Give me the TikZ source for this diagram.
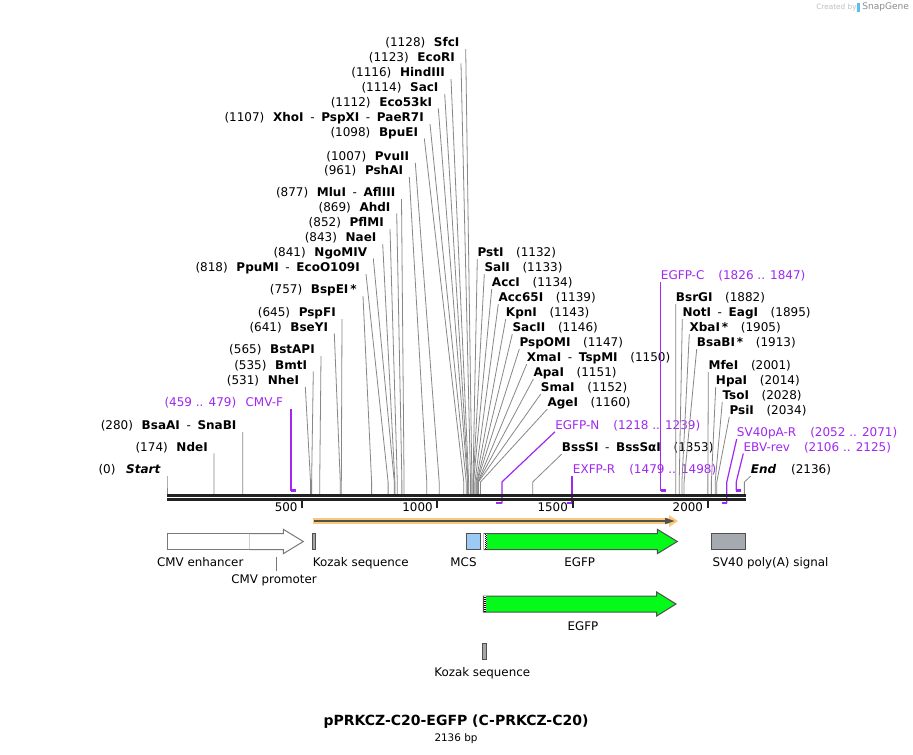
\documentclass[tikz,border=0pt]{standalone}
\usepackage{fontspec}
\setmainfont{DejaVu Sans}
\usepackage{tikz}

\definecolor{primer}{RGB}{160,40,240}
\definecolor{cutgray}{RGB}{135,135,135}
\definecolor{featgray}{RGB}{120,120,120}
\definecolor{featdark}{RGB}{80,80,80}
\definecolor{axisblack}{RGB}{34,34,34}
\definecolor{kozakgray}{RGB}{165,165,170}
\definecolor{mcsblue}{RGB}{155,202,245}
\definecolor{egfpgreen}{RGB}{4,250,24}
\definecolor{polyagray}{RGB}{165,170,177}
\definecolor{orfband}{RGB}{249,200,122}
\definecolor{snapblue}{RGB}{90,190,240}

\newcommand{\sepd}{\hspace{5pt}-\hspace{5pt}}

\begin{document}
\begin{tikzpicture}[x=0.75pt, y=-0.75pt,
    font=\fontsize{9}{10}\selectfont,
    cutl/.style={anchor=east, inner xsep=4.5pt, inner ysep=0pt, text height=6.6pt, text depth=0pt, minimum height=9.75pt},
    cutr/.style={anchor=west, inner sep=0pt, text height=6.6pt, text depth=0pt, minimum height=9.75pt},
    priml/.style={cutl, inner xsep=0pt, text=primer},
    primr/.style={cutr, text=primer},
    cut/.style={draw=cutgray, line width=0.6pt},
    prm/.style={draw=primer, line width=0.9pt},
    prmbar/.style={draw=primer, line width=1.6pt},
    feat/.style={draw=featgray, line width=0.75pt},
    featd/.style={draw=featdark, line width=0.75pt},
    tick/.style={draw=axisblack, line width=1.5pt},
    flabel/.style={inner sep=0pt, text height=6.5pt, text depth=0pt, font=\fontsize{8.9}{10}\selectfont}]

    \fill[white] (0,0) rectangle (913,754);
    \useasboundingbox (0,0) rectangle (913,754);

    % sites on the sequence
    \coordinate (bend) at (0,482);
    \coordinate (fwd) at (0,490.5);
    \coordinate (rev) at (0,503.3);
    \foreach \b in {0,174,280,459,479,531,535,565,641,645,757,818,841,843,852,869,877,961,1007,1098,1107,1112,1114,1116,1123,1128,1132,1133,1134,1139,1143,1146,1147,1150,1151,1152,1160,1218,1239,1353,1479,1498,1826,1847,1882,1895,1905,1913,2001,2014,2028,2034,2052,2071,2106,2125,2136}
        \coordinate (s\b) at ({167+0.2703*\b},494);

    % labels, left side
    \node[cutl] (sfci) at (465.7,42.3) {(1128)\hspace{6.5pt}\textbf{SfcI}};
    \node[cutl] (ecori) at (461,56.7) {(1123)\hspace{6.5pt}\textbf{EcoRI}};
    \node[cutl] (hindiii) at (451,72.3) {(1116)\hspace{6.5pt}\textbf{HindIII}};
    \node[cutl] (saci) at (444.7,87.3) {(1114)\hspace{6.5pt}\textbf{SacI}};
    \node[cutl] (eco53ki) at (438.3,101.7) {(1112)\hspace{6.5pt}\textbf{Eco53kI}};
    \node[cutl] (xhoi) at (430,117.3) {(1107)\hspace{6.5pt}\textbf{XhoI}\sepd\textbf{PspXI}\sepd\textbf{PaeR7I}};
    \node[cutl] (bpuei) at (424.3,131.7) {(1098)\hspace{6.5pt}\textbf{BpuEI}};
    \node[cutl] (pvuii) at (415.3,156) {(1007)\hspace{6.5pt}\textbf{PvuII}};
    \node[cutl] (pshai) at (409.3,170) {(961)\hspace{6.5pt}\textbf{PshAI}};
    \node[cutl] (mlui) at (401.5,192.3) {(877)\hspace{6.5pt}\textbf{MluI}\sepd\textbf{AflIII}};
    \node[cutl] (ahdi) at (396.7,206.7) {(869)\hspace{6.5pt}\textbf{AhdI}};
    \node[cutl] (pflmi) at (390,222.3) {(852)\hspace{6.5pt}\textbf{PflMI}};
    \node[cutl] (naei) at (382.7,237.3) {(843)\hspace{6.5pt}\textbf{NaeI}};
    \node[cutl] (ngomiv) at (373.3,251.7) {(841)\hspace{6.5pt}\textbf{NgoMIV}};
    \node[cutl] (ppumi) at (366,267.3) {(818)\hspace{6.5pt}\textbf{PpuMI}\sepd\textbf{EcoO109I}};
    \node[cutl] (bspei) at (363,289.3) {(757)\hspace{6.5pt}\textbf{BspEI\,*}};
    \node[cutl] (pspfi) at (342,312.3) {(645)\hspace{6.5pt}\textbf{PspFI}};
    \node[cutl] (bseyi) at (334.3,326.7) {(641)\hspace{6.5pt}\textbf{BseYI}};
    \node[cutl] (bstapi) at (321,349.3) {(565)\hspace{6.5pt}\textbf{BstAPI}};
    \node[cutl] (bmti) at (313.3,364.7) {(535)\hspace{6.5pt}\textbf{BmtI}};
    \node[cutl] (nhei) at (305.3,380) {(531)\hspace{6.5pt}\textbf{NheI}};
    \node[priml] (cmvf) at (283.3,402.3) {(459 .. 479)\hspace{7pt}CMV-F};
    \node[cutl] (bsaai) at (242.7,425) {(280)\hspace{6.5pt}\textbf{BsaAI}\sepd\textbf{SnaBI}};
    \node[cutl] (ndei) at (214,446.7) {(174)\hspace{6.5pt}\textbf{NdeI}};
    \node[cutl] (startlbl) at (167,469.3) {(0)\hspace{8pt}\textbf{\textit{Start}}};

    % labels, right side
    \node[cutr] (psti) at (477.3,252.3) {\textbf{PstI}\hspace{9.5pt}(1132)};
    \node[cutr] (sali) at (484.3,267.3) {\textbf{SalI}\hspace{9.5pt}(1133)};
    \node[cutr] (acci) at (491.7,282.3) {\textbf{AccI}\hspace{9.5pt}(1134)};
    \node[cutr] (acc65i) at (498.3,297.3) {\textbf{Acc65I}\hspace{9.5pt}(1139)};
    \node[cutr] (kpni) at (505.7,312.3) {\textbf{KpnI}\hspace{9.5pt}(1143)};
    \node[cutr] (sacii) at (512.3,327.3) {\textbf{SacII}\hspace{9.5pt}(1146)};
    \node[cutr] (pspomi) at (519.3,342.3) {\textbf{PspOMI}\hspace{9.5pt}(1147)};
    \node[cutr] (xmai) at (526.7,357.3) {\textbf{XmaI}\sepd\textbf{TspMI}\hspace{9.5pt}(1150)};
    \node[cutr] (apai) at (533.3,372.3) {\textbf{ApaI}\hspace{9.5pt}(1151)};
    \node[cutr] (smai) at (540.7,387.3) {\textbf{SmaI}\hspace{9.5pt}(1152)};
    \node[cutr] (agei) at (547.3,402.3) {\textbf{AgeI}\hspace{9.5pt}(1160)};
    \node[primr] (egfpn) at (555,425) {EGFP-N\hspace{10.5pt}(1218 .. 1239)};
    \node[cutr] (bsssi) at (561.7,447.3) {\textbf{BssSI}\sepd\textbf{BssSαI}\hspace{9.5pt}(1353)};
    \node[primr] (exfpr) at (572.7,469.3) {EXFP-R\hspace{10.5pt}(1479 .. 1498)};
    \node[primr] (egfpc) at (660.7,275) {EGFP-C\hspace{10.5pt}(1826 .. 1847)};
    \node[cutr] (bsrgi) at (675.7,297.3) {\textbf{BsrGI}\hspace{9.5pt}(1882)};
    \node[cutr] (noti) at (682.3,312.3) {\textbf{NotI}\sepd\textbf{EagI}\hspace{9.5pt}(1895)};
    \node[cutr] (xbai) at (689.3,327.3) {\textbf{XbaI\,*}\hspace{9.5pt}(1905)};
    \node[cutr] (bsabi) at (696.7,342.3) {\textbf{BsaBI\,*}\hspace{9.5pt}(1913)};
    \node[cutr] (mfei) at (708.3,365) {\textbf{MfeI}\hspace{9.5pt}(2001)};
    \node[cutr] (hpai) at (715.7,380) {\textbf{HpaI}\hspace{9.5pt}(2014)};
    \node[cutr] (tsoi) at (722.3,395) {\textbf{TsoI}\hspace{9.5pt}(2028)};
    \node[cutr] (psii) at (729.3,410) {\textbf{PsiI}\hspace{9.5pt}(2034)};
    \node[primr] (sv40par) at (736.7,432.3) {SV40pA-R\hspace{10.5pt}(2052 .. 2071)};
    \node[primr] (ebvrev) at (743.3,446.7) {EBV-rev\hspace{10.5pt}(2106 .. 2125)};
    \node[cutr] (endlbl) at (750.7,469.3) {\textbf{\textit{End}}\hspace{11pt}(2136)};

    % cut site lines
    \draw[cut] (sfci.south east) -- (s1128 |- bend) -- (s1128);
    \draw[cut] (ecori.south east) -- (s1123 |- bend) -- (s1123);
    \draw[cut] (hindiii.south east) -- (s1116 |- bend) -- (s1116);
    \draw[cut] (saci.south east) -- (s1114 |- bend) -- (s1114);
    \draw[cut] (eco53ki.south east) -- (s1112 |- bend) -- (s1112);
    \draw[cut] (xhoi.south east) -- (s1107 |- bend) -- (s1107);
    \draw[cut] (bpuei.south east) -- (s1098 |- bend) -- (s1098);
    \draw[cut] (pvuii.south east) -- (s1007 |- bend) -- (s1007);
    \draw[cut] (pshai.south east) -- (s961 |- bend) -- (s961);
    \draw[cut] (mlui.south east) -- (s877 |- bend) -- (s877);
    \draw[cut] (ahdi.south east) -- (s869 |- bend) -- (s869);
    \draw[cut] (pflmi.south east) -- (s852 |- bend) -- (s852);
    \draw[cut] (naei.south east) -- (s843 |- bend) -- (s843);
    \draw[cut] (ngomiv.south east) -- (s841 |- bend) -- (s841);
    \draw[cut] (ppumi.south east) -- (s818 |- bend) -- (s818);
    \draw[cut] (bspei.south east) -- (s757 |- bend) -- (s757);
    \draw[cut] (pspfi.south east) -- (s645 |- bend) -- (s645);
    \draw[cut] (bseyi.south east) -- (s641 |- bend) -- (s641);
    \draw[cut] (bstapi.south east) -- (s565 |- bend) -- (s565);
    \draw[cut] (bmti.south east) -- (s535 |- bend) -- (s535);
    \draw[cut] (nhei.south east) -- (s531 |- bend) -- (s531);
    \draw[cut] (bsaai.south east) -- (s280 |- bend) -- (s280);
    \draw[cut] (ndei.south east) -- (s174 |- bend) -- (s174);
    \draw[cut] (startlbl.south east) -- (s0 |- bend) -- (s0);
    \draw[cut] (psti.south west) -- (s1132 |- bend) -- (s1132);
    \draw[cut] (sali.south west) -- (s1133 |- bend) -- (s1133);
    \draw[cut] (acci.south west) -- (s1134 |- bend) -- (s1134);
    \draw[cut] (acc65i.south west) -- (s1139 |- bend) -- (s1139);
    \draw[cut] (kpni.south west) -- (s1143 |- bend) -- (s1143);
    \draw[cut] (sacii.south west) -- (s1146 |- bend) -- (s1146);
    \draw[cut] (pspomi.south west) -- (s1147 |- bend) -- (s1147);
    \draw[cut] (xmai.south west) -- (s1150 |- bend) -- (s1150);
    \draw[cut] (apai.south west) -- (s1151 |- bend) -- (s1151);
    \draw[cut] (smai.south west) -- (s1152 |- bend) -- (s1152);
    \draw[cut] (agei.south west) -- (s1160 |- bend) -- (s1160);
    \draw[cut] (bsssi.south west) -- (s1353 |- bend) -- (s1353);
    \draw[cut] (bsrgi.south west) -- (s1882 |- bend) -- (s1882);
    \draw[cut] (noti.south west) -- (s1895 |- bend) -- (s1895);
    \draw[cut] (xbai.south west) -- (s1905 |- bend) -- (s1905);
    \draw[cut] (bsabi.south west) -- (s1913 |- bend) -- (s1913);
    \draw[cut] (mfei.south west) -- (s2001 |- bend) -- (s2001);
    \draw[cut] (hpai.south west) -- (s2014 |- bend) -- (s2014);
    \draw[cut] (tsoi.south west) -- (s2028 |- bend) -- (s2028);
    \draw[cut] (psii.south west) -- (s2034 |- bend) -- (s2034);
    \draw[cut] (endlbl.south west) -- (s2136 |- bend) -- (s2136);

    % primers
    \draw[prm] (cmvf.south east -| s459) -- (s459 |- fwd);
    \draw[prmbar] (s459 |- fwd) -- (s479 |- fwd);
    \draw[prm] (egfpn.south west) -- (s1239 |- bend) -- (s1239 |- rev);
    \draw[prmbar] (s1218 |- rev) -- (s1239 |- rev);
    \draw[prm] (exfpr.south west -| s1498) -- (s1498 |- rev);
    \draw[prmbar] (s1479 |- rev) -- (s1498 |- rev);
    \draw[prm] (egfpc.south west -| s1826) -- (s1826 |- fwd);
    \draw[prmbar] (s1826 |- fwd) -- (s1847 |- fwd);
    \draw[prm] (sv40par.south west) -- (s2071 |- bend) -- (s2071 |- rev);
    \draw[prmbar] (s2052 |- rev) -- (s2071 |- rev);
    \draw[prm] (ebvrev.south west) -- (s2106 |- bend) -- (s2106 |- fwd);
    \draw[prmbar] (s2106 |- fwd) -- (s2125 |- fwd);

    % sequence and ruler
    \draw[axisblack, line width=1.9pt] (167,495.3) -- (745.5,495.3);
    \draw[axisblack, line width=1.9pt] (167,499.6) -- (745.5,499.6);
    \draw[tick] (302.2,499) -- (302.2,507.5);
    \draw[tick] (437.3,499) -- (437.3,507.5);
    \draw[tick] (572.5,499) -- (572.5,507.5);
    \draw[tick] (707.6,499) -- (707.6,507.5);
    \node[flabel, anchor=east] (t500) at (297.8,507) {500};
    \node[flabel, anchor=east] (t1000) at (432.9,507) {1000};
    \node[flabel, anchor=east] (t1500) at (568.1,507) {1500};
    \node[flabel, anchor=east] (t2000) at (703.2,507) {2000};

    % ORF
    \fill[orfband] (313.3,517.7) rectangle (671,524.3);
    \fill[orfband] (669,515) -- (678,521) -- (669,527) -- cycle;
    \draw[featdark, line width=1.3pt] (314,521) -- (667,521);
    \fill[featdark] (665,517.8) -- (674.5,521) -- (665,524.2) -- cycle;

    % features
    \draw[feat, fill=white] (167,533.5) rectangle (249.3,549.5);
    \draw[feat, fill=white] (249.3,533.5) -- (283.3,533.5) -- (283.3,529.3) -- (303.3,541.5) -- (283.3,553.7) -- (283.3,549.5) -- (249.3,549.5);
    \draw[featd, fill=kozakgray] (312.5,533.5) rectangle (315,549.5);
    \draw[featd, fill=mcsblue] (466.7,533.5) rectangle (480.7,549.5);
    \draw[featd, fill=egfpgreen] (484,533.5) -- (657.3,533.5) -- (657.3,529.3) -- (677.3,541.5) -- (657.3,553.7) -- (657.3,549.5) -- (484,549.5) -- cycle;
    \fill[white] (484.4,533.9) rectangle (487,549.1);
    \draw[black, densely dotted, line width=0.5pt] (485.1,534) -- (485.1,549);
    \draw[black, densely dotted, line width=0.5pt] (486.4,534.6) -- (486.4,549);
    \draw[featd, fill=polyagray] (711,533.3) rectangle (745.7,549.3);
    \draw[featd, fill=egfpgreen] (483.3,596) -- (656.7,596) -- (656.7,592) -- (676,604) -- (656.7,616) -- (656.7,612) -- (483.3,612) -- cycle;
    \fill[white] (483.7,596.4) rectangle (486.3,611.6);
    \draw[black, densely dotted, line width=0.5pt] (484.4,596.5) -- (484.4,611.5);
    \draw[black, densely dotted, line width=0.5pt] (485.7,597.1) -- (485.7,611.5);
    \draw[featd, fill=kozakgray] (482.8,643.3) rectangle (486.2,659.3);

    % feature labels
    \node[flabel] (cmvenh) at (200.3,562.3) {CMV enhancer};
    \node[flabel, inner ysep=2.5pt] (cmvprom) at (274,578.7) {CMV promoter};
    \coordinate (promtick) at (276.7,556.7);
    \draw[feat] (cmvprom.north -| promtick) -- (promtick);
    \node[flabel, anchor=west] (kozak1) at (312.7,562.3) {Kozak sequence};
    \node[flabel] (mcslbl) at (463.5,562.3) {MCS};
    \node[flabel] (egfp1) at (579.7,562.3) {EGFP};
    \node[flabel, anchor=west] (sv40lbl) at (712.3,562.3) {SV40 poly(A) signal};
    \node[flabel] (egfp2) at (583,625.7) {EGFP};
    \node[flabel] (kozak2) at (482.2,672) {Kozak sequence};

    % title
    \node[font=\bfseries\fontsize{10.5}{12}\selectfont] (title) at (456,722) {pPRKCZ-C20-EGFP (C-PRKCZ-C20)};
    \node[font=\fontsize{7.8}{9}\selectfont] (size) at (456,738.5) {2136 bp};

    \node[font=\fontsize{5.5}{6}\selectfont, text=black!25, anchor=west, inner sep=0pt] (created) at (816,7.5) {Created by};
    \fill[snapblue] (856.5,3) rectangle (860,11.5);
    \node[font=\fontsize{6.8}{7}\selectfont, text=black!45, anchor=west, inner sep=0pt] (snapgene) at (862,7.5) {SnapGene};
\end{tikzpicture}
\end{document}
